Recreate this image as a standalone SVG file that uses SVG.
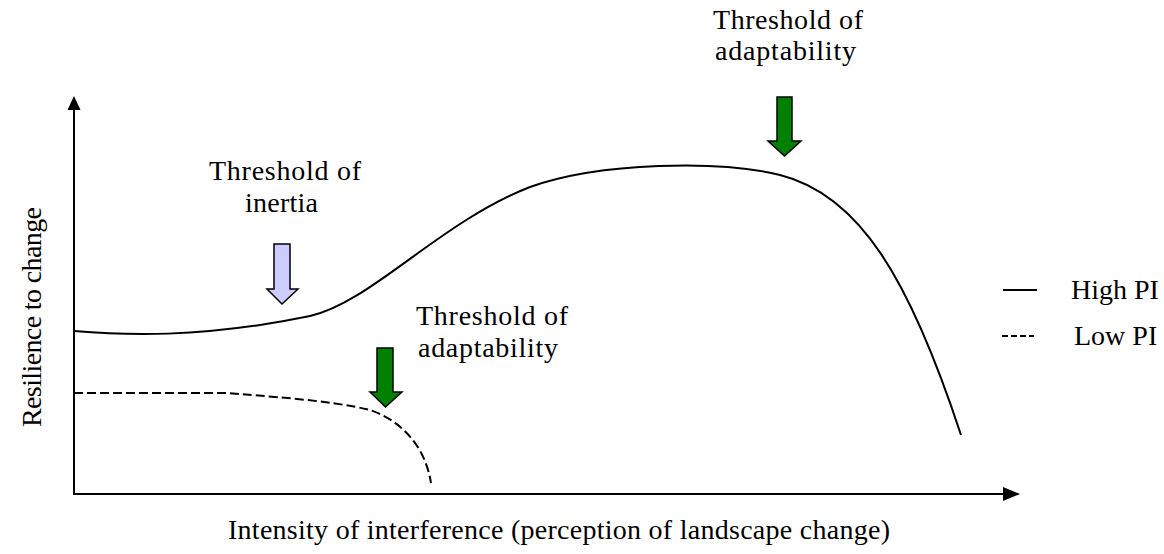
<svg xmlns="http://www.w3.org/2000/svg" width="1164" height="554" viewBox="0 0 1164 554">
  <style>
    .lbl { font-family: "Liberation Serif", "Times New Roman", serif; font-size: 28px; fill: #000; }
    .axis { stroke: #000; stroke-width: 2; fill: none; }
    .curve { stroke: #000; stroke-width: 2; fill: none; }
    .dash { stroke-dasharray: 9 4; }
    .arr { stroke: #000; stroke-width: 1.5; stroke-linejoin: miter; }
    .green { fill: #008000; }
    .lilac { fill: #ccccff; }
  </style>

  <rect width="1164" height="554" fill="#fff"/>

  <!-- axes -->
  <g id="axes">
    <line class="axis" x1="74" y1="495" x2="74" y2="106"/>
    <polygon points="74,96 67.5,110 80.5,110" fill="#000"/>
    <line class="axis" x1="73" y1="494" x2="1006" y2="494"/>
    <polygon points="1020,494 1003,487 1003,501" fill="#000"/>
    <text class="lbl" x="228" y="539" textLength="662" lengthAdjust="spacing">Intensity of interference (perception of landscape change)</text>
    <text class="lbl" transform="translate(41,427) rotate(-90)" textLength="220" lengthAdjust="spacing">Resilience to change</text>
  </g>

  <!-- curves -->
  <g id="connectors">
    <path id="high-pi" class="curve" d="M74,331 C120,335 200,339 310,316 C370,303 440,222 530,187 C600,162 720,160 780,175 C860,195 910,280 961,435"/>
    <path id="low-pi" class="curve dash" d="M74,393 L228,393 C260,396 330,400 370,410 C400,420 425,445 431,483"/>
  </g>

  <!-- threshold of inertia -->
  <g id="inertia">
    <text class="lbl" x="209" y="180" textLength="152" lengthAdjust="spacing">Threshold of</text>
    <text class="lbl" x="245" y="212" textLength="73" lengthAdjust="spacing">inertia</text>
    <polygon class="arr lilac" points="274,244 290,244 290,289 298,289 282,304 267,289 274,289"/>
  </g>

  <!-- lower threshold of adaptability -->
  <g id="adapt-low">
    <text class="lbl" x="416" y="325" textLength="152" lengthAdjust="spacing">Threshold of</text>
    <text class="lbl" x="418" y="357" textLength="140" lengthAdjust="spacing">adaptability</text>
    <polygon class="arr green" points="377,348 393,348 393,392 402,392 385.5,407 370,392 377,392"/>
  </g>

  <!-- upper threshold of adaptability -->
  <g id="adapt-high">
    <text class="lbl" x="713" y="29" textLength="150" lengthAdjust="spacing">Threshold of</text>
    <text class="lbl" x="715" y="60" textLength="141" lengthAdjust="spacing">adaptability</text>
    <polygon class="arr green" points="777,97 792,97 792,141 801,141 784.5,156 768,141 777,141"/>
  </g>

  <!-- legend -->
  <g id="legend">
    <line class="curve" x1="1003" y1="290" x2="1037" y2="290"/>
    <text class="lbl" x="1071" y="299">High PI</text>
    <line class="curve dash" x1="1002" y1="336" x2="1034" y2="336" style="stroke-dasharray:6 3"/>
    <text class="lbl" x="1074" y="345">Low PI</text>
  </g>
</svg>
